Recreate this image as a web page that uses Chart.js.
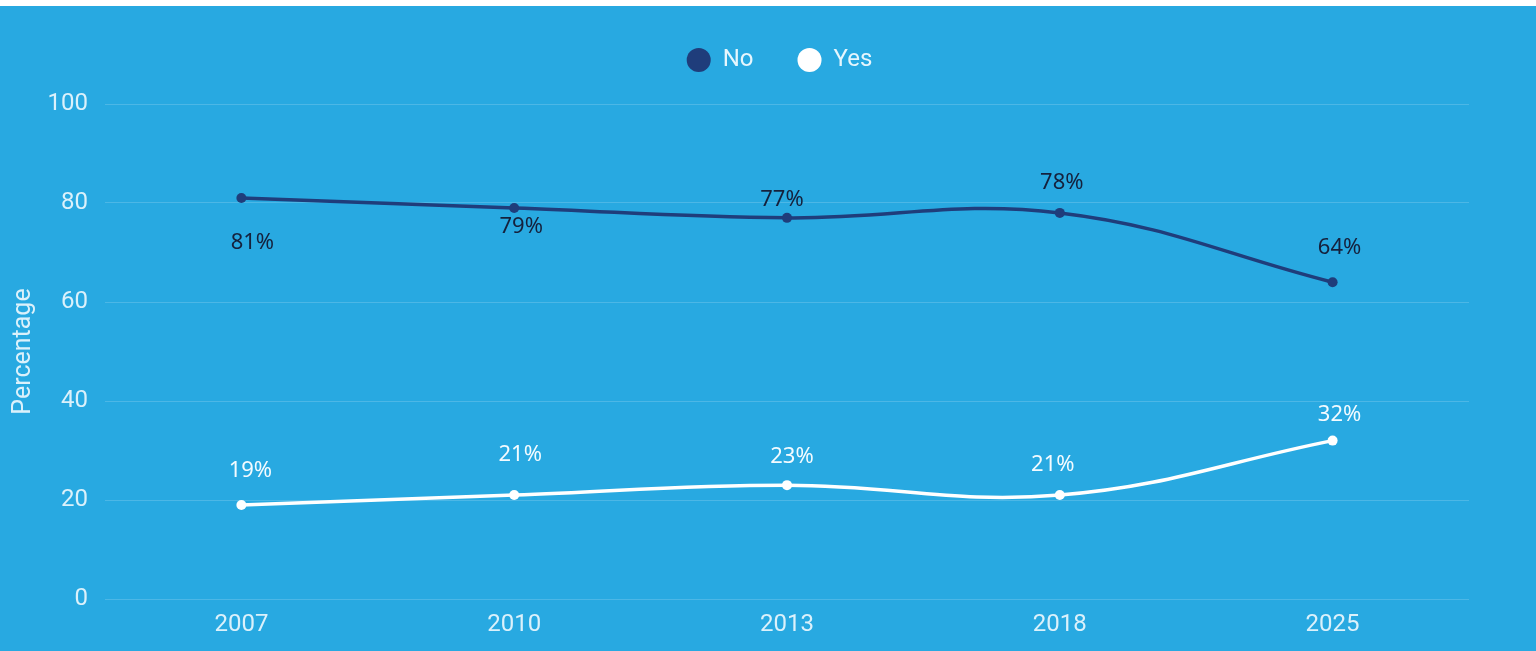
<!DOCTYPE html>
<html>
<head>
<meta charset="utf-8">
<title>No / Yes</title>
<script src="https://cdn.jsdelivr.net/npm/chart.js@4.4.1/dist/chart.umd.min.js"></script>
<style>
  html, body { margin: 0; padding: 0; background: #ffffff; }
  .chart-wrap {
    position: absolute;
    top: 6px;
    left: 0;
    width: 1536px;
    height: 645px;
    background: #28a9e1;
  }
</style>
</head>
<body>
<div class="chart-wrap">
  <canvas id="trendChart" width="1536" height="645"></canvas>
</div>
<script>
// survey years and answers (percent)
const years = ["2007", "2010", "2013", "2018", "2025"];
const noValues = [81, 79, 77, 78, 64];
const yesValues = [19, 21, 23, 21, 32];
const yTicks = [0, 20, 40, 60, 80, 100];

// where each value label sits relative to its point (dx, dy)
const noLabelShift = [[11, 45], [7, 19], [-5, -18], [2, -30], [7, -34]];
const yesLabelShift = [[9, -34], [6, -40], [5, -28], [-7, -30], [7, -26]];

const NAVY = "#1f3d7b";
const TICK_COLOR = "#dbf1fb";

// value labels ("81%") next to every point
const valueLabels = {
  id: "valueLabels",
  afterDatasetsDraw(chart) {
    const ctx = chart.ctx;
    ctx.save();
    ctx.font = "22px 'Noto Sans', sans-serif";
    ctx.textAlign = "center";
    ctx.textBaseline = "middle";
    chart.data.datasets.forEach((ds, di) => {
      const meta = chart.getDatasetMeta(di);
      ctx.fillStyle = ds.labelColor;
      meta.data.forEach((pt, i) => {
        const [dx, dy] = ds.labelShift[i];
        ctx.fillText(ds.data[i] + "%", pt.x + dx, pt.y + dy);
      });
    });
    ctx.restore();
  }
};

// legend sits a bit right of the canvas centre and higher up
const legendNudge = {
  id: "legendNudge",
  afterLayout(chart) {
    const lg = chart.legend;
    lg.left += 42;
    lg.right += 42;
    lg.top -= 22;
    lg.bottom -= 22;
  }
};

new Chart(document.getElementById("trendChart"), {
  type: "line",
  data: {
    labels: years,
    datasets: [
      {
        label: "No",
        data: noValues,
        borderColor: NAVY,
        backgroundColor: NAVY,
        pointBackgroundColor: NAVY,
        borderWidth: 3.5,
        pointRadius: 5,
        pointBorderWidth: 0,
        tension: 0.4,
        labelColor: "#15213c",
        labelShift: noLabelShift
      },
      {
        label: "Yes",
        data: yesValues,
        borderColor: "#ffffff",
        backgroundColor: "#ffffff",
        pointBackgroundColor: "#ffffff",
        borderWidth: 3.5,
        pointRadius: 5,
        pointBorderWidth: 0,
        tension: 0.4,
        labelColor: "#f3fbff",
        labelShift: yesLabelShift
      }
    ]
  },
  options: {
    responsive: false,
    animation: false,
    layout: {
      padding: { top: 20, left: 6, right: 67, bottom: 12 }
    },
    plugins: {
      legend: {
        position: "top",
        labels: {
          usePointStyle: true,
          pointStyle: "circle",
          boxHeight: 17,
          padding: 44,
          color: "#e6f6fd",
          font: { family: "Roboto", size: 24 }
        }
      },
      tooltip: { enabled: false }
    },
    scales: {
      x: {
        offset: true,
        afterFit: axis => { axis.height = 40; },
        grid: { display: false, drawTicks: false },
        border: { display: false },
        ticks: {
          color: TICK_COLOR,
          padding: 12,
          font: { family: "Roboto", size: 24 }
        }
      },
      y: {
        min: 0,
        max: 100,
        afterBuildTicks: axis => {
          axis.ticks = yTicks.map(v => ({ value: v }));
        },
        afterFit: axis => { axis.width = 99; },
        grid: {
          color: "rgba(255,255,255,0.17)",
          lineWidth: 1,
          drawTicks: false
        },
        border: { display: false },
        ticks: {
          color: TICK_COLOR,
          padding: 17,
          font: { family: "Roboto", size: 24 }
        },
        title: {
          display: true,
          text: "Percentage",
          color: TICK_COLOR,
          padding: { top: 3, bottom: 4 },
          font: { family: "Roboto", size: 25 }
        }
      }
    }
  },
  plugins: [valueLabels, legendNudge]
});
</script>
</body>
</html>
